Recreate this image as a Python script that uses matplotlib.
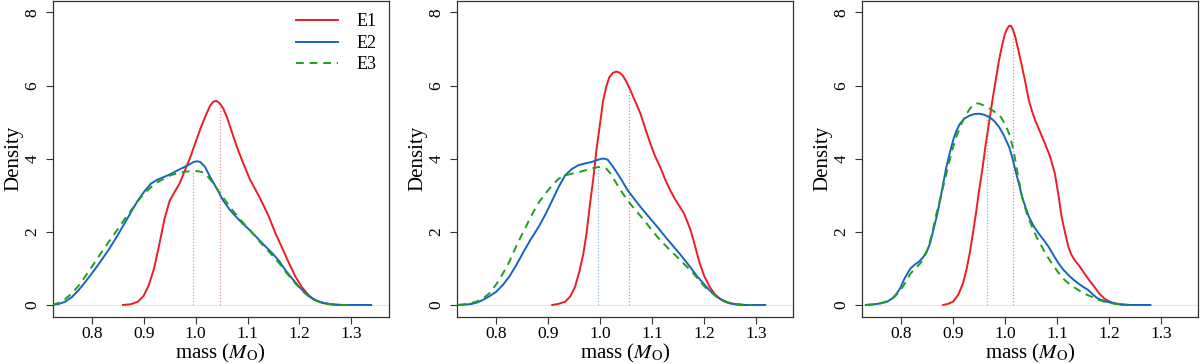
import numpy as np
import matplotlib
matplotlib.use("Agg")
import matplotlib.pyplot as plt

plt.rcParams['font.family'] = ['Liberation Serif', 'DejaVu Serif']
plt.rcParams['mathtext.fontset'] = 'stix'

# -------------------------------
# DATA
# -------------------------------

# panel 1
p1_e1_x = [0.860, 0.875, 0.889, 0.900, 0.910, 0.920, 0.930, 0.940, 0.950, 0.960, 0.970, 0.980,
           0.990, 1.000, 1.010, 1.020, 1.028, 1.034, 1.040, 1.046, 1.053, 1.060, 1.070, 1.080,
           1.091, 1.105, 1.123, 1.140, 1.154, 1.167, 1.180, 1.192, 1.205, 1.218, 1.230, 1.243,
           1.256, 1.270, 1.284]
p1_e1_y = [0.00, 0.02, 0.09, 0.25, 0.55, 1.00, 1.65, 2.35, 2.85, 3.10, 3.35, 3.70,
           4.05, 4.45, 4.85, 5.20, 5.45, 5.56, 5.58, 5.52, 5.38, 5.15, 4.72, 4.30,
           3.90, 3.42, 2.95, 2.45, 1.95, 1.55, 1.14, 0.78, 0.48, 0.26, 0.13, 0.06,
           0.025, 0.008, 0.00]
p1_e2_x = [0.724, 0.737, 0.749, 0.762, 0.775, 0.787, 0.800, 0.816, 0.832, 0.848, 0.863, 0.876,
           0.889, 0.901, 0.914, 0.927, 0.939, 0.952, 0.965, 0.978, 0.990, 0.996, 1.003, 1.009,
           1.018, 1.028, 1.040, 1.053, 1.066, 1.078, 1.091, 1.104, 1.117, 1.129, 1.148, 1.161,
           1.173, 1.186, 1.199, 1.212, 1.224, 1.237, 1.249, 1.265, 1.281, 1.338]
p1_e2_y = [0.00, 0.03, 0.09, 0.22, 0.41, 0.62, 0.86, 1.17, 1.50, 1.86, 2.23, 2.55,
           2.86, 3.10, 3.32, 3.43, 3.50, 3.58, 3.68, 3.77, 3.86, 3.91, 3.93, 3.91,
           3.78, 3.50, 3.20, 2.86, 2.60, 2.41, 2.22, 2.05, 1.86, 1.68, 1.41, 1.20,
           0.95, 0.72, 0.50, 0.32, 0.18, 0.10, 0.05, 0.015, 0.00, 0.00]
p1_e3_x = [0.724, 0.743, 0.762, 0.775, 0.787, 0.800, 0.813, 0.828, 0.844, 0.860, 0.876, 0.888,
           0.901, 0.914, 0.927, 0.940, 0.952, 0.965, 0.977, 0.990, 1.003, 1.011, 1.018, 1.026,
           1.034, 1.050, 1.066, 1.085, 1.104, 1.117, 1.129, 1.145, 1.161, 1.176, 1.192, 1.205,
           1.218, 1.230, 1.243, 1.259, 1.275, 1.300]
p1_e3_y = [0.00, 0.09, 0.32, 0.53, 0.77, 1.04, 1.32, 1.63, 1.95, 2.28, 2.59, 2.83,
           3.05, 3.22, 3.36, 3.46, 3.55, 3.60, 3.64, 3.66, 3.66, 3.64, 3.59, 3.47,
           3.32, 3.00, 2.68, 2.35, 2.05, 1.84, 1.64, 1.40, 1.14, 0.86, 0.59, 0.39,
           0.23, 0.13, 0.06, 0.02, 0.00, 0.00]

# panel 2
p2_e1_x = [0.908, 0.920, 0.933, 0.943, 0.952, 0.960, 0.968, 0.974, 0.980, 0.987, 0.993, 1.000,
           1.006, 1.012, 1.018, 1.025, 1.031, 1.037, 1.044, 1.051, 1.059, 1.068, 1.078, 1.087,
           1.097, 1.106, 1.116, 1.125, 1.135, 1.145, 1.154, 1.161, 1.167, 1.174, 1.180, 1.186,
           1.192, 1.201, 1.211, 1.220, 1.230, 1.240, 1.249, 1.265, 1.281]
p2_e1_y = [0.00, 0.03, 0.09, 0.24, 0.50, 0.90, 1.41, 1.95, 2.68, 3.45, 4.23, 4.95,
           5.59, 5.97, 6.23, 6.35, 6.38, 6.36, 6.27, 6.10, 5.86, 5.56, 5.23, 4.83,
           4.41, 4.07, 3.77, 3.45, 3.14, 2.88, 2.68, 2.52, 2.32, 2.06, 1.77, 1.45,
           1.14, 0.78, 0.50, 0.31, 0.18, 0.09, 0.05, 0.015, 0.00]
p2_e2_x = [0.727, 0.740, 0.753, 0.764, 0.775, 0.787, 0.800, 0.813, 0.825, 0.838, 0.851, 0.866,
           0.882, 0.895, 0.908, 0.920, 0.933, 0.946, 0.958, 0.971, 0.984, 0.994, 1.003, 1.009,
           1.015, 1.024, 1.034, 1.044, 1.053, 1.066, 1.078, 1.094, 1.110, 1.126, 1.142, 1.158,
           1.173, 1.186, 1.199, 1.211, 1.224, 1.237, 1.249, 1.262, 1.275, 1.318]
p2_e2_y = [0.00, 0.01, 0.03, 0.07, 0.14, 0.24, 0.36, 0.55, 0.77, 1.07, 1.41, 1.78,
           2.14, 2.48, 2.86, 3.22, 3.55, 3.72, 3.82, 3.87, 3.91, 3.96, 4.00, 4.00,
           3.97, 3.80, 3.59, 3.36, 3.14, 2.90, 2.68, 2.41, 2.14, 1.86, 1.59, 1.32,
           1.05, 0.80, 0.59, 0.40, 0.23, 0.12, 0.05, 0.015, 0.00, 0.00]
p2_e3_x = [0.727, 0.745, 0.762, 0.775, 0.787, 0.800, 0.813, 0.826, 0.838, 0.854, 0.870, 0.882,
           0.895, 0.908, 0.920, 0.933, 0.946, 0.958, 0.971, 0.984, 0.996, 1.004, 1.012, 1.020,
           1.028, 1.040, 1.053, 1.069, 1.085, 1.100, 1.116, 1.132, 1.148, 1.164, 1.180, 1.192,
           1.205, 1.218, 1.230, 1.243, 1.256, 1.275, 1.294]
p2_e3_y = [0.00, 0.03, 0.09, 0.18, 0.32, 0.56, 0.86, 1.20, 1.59, 2.05, 2.50, 2.80,
           3.05, 3.27, 3.45, 3.54, 3.59, 3.63, 3.68, 3.73, 3.77, 3.77, 3.73, 3.60,
           3.41, 3.13, 2.86, 2.58, 2.32, 2.04, 1.77, 1.54, 1.32, 1.09, 0.86, 0.65,
           0.45, 0.30, 0.18, 0.09, 0.03, 0.005, 0.00]

# panel 3
p3_e1_x = [0.881, 0.890, 0.900, 0.910, 0.919, 0.926, 0.932, 0.938, 0.944, 0.950, 0.957, 0.963,
           0.970, 0.976, 0.982, 0.988, 0.995, 1.000, 1.004, 1.008, 1.011, 1.015, 1.020, 1.026,
           1.033, 1.040, 1.046, 1.052, 1.058, 1.067, 1.077, 1.087, 1.096, 1.103, 1.109, 1.116,
           1.122, 1.128, 1.134, 1.144, 1.153, 1.162, 1.172, 1.181, 1.191, 1.200, 1.210, 1.222,
           1.235]
p3_e1_y = [0.00, 0.03, 0.09, 0.28, 0.59, 0.98, 1.41, 1.94, 2.50, 3.12, 3.77, 4.41,
           5.05, 5.62, 6.14, 6.66, 7.14, 7.42, 7.55, 7.63, 7.64, 7.54, 7.32, 6.95,
           6.50, 6.03, 5.59, 5.30, 5.05, 4.75, 4.41, 4.05, 3.59, 3.00, 2.41, 1.95,
           1.59, 1.37, 1.23, 1.05, 0.86, 0.68, 0.50, 0.32, 0.18, 0.10, 0.05, 0.015,
           0.00]
p3_e2_x = [0.732, 0.743, 0.754, 0.763, 0.773, 0.783, 0.792, 0.799, 0.805, 0.812, 0.818, 0.826,
           0.834, 0.842, 0.849, 0.856, 0.862, 0.869, 0.875, 0.881, 0.887, 0.894, 0.900, 0.906,
           0.913, 0.922, 0.932, 0.941, 0.951, 0.960, 0.970, 0.980, 0.989, 0.998, 1.008, 1.014,
           1.020, 1.027, 1.033, 1.040, 1.046, 1.055, 1.065, 1.075, 1.084, 1.093, 1.103, 1.112,
           1.122, 1.131, 1.141, 1.150, 1.160, 1.169, 1.178, 1.191, 1.204, 1.220, 1.242, 1.280]
p3_e2_y = [0.00, 0.01, 0.03, 0.05, 0.09, 0.18, 0.32, 0.48, 0.68, 0.86, 1.00, 1.10,
           1.18, 1.30, 1.45, 1.70, 2.05, 2.45, 2.86, 3.32, 3.77, 4.18, 4.50, 4.75,
           4.95, 5.10, 5.18, 5.22, 5.23, 5.20, 5.14, 5.02, 4.86, 4.63, 4.32, 4.03,
           3.68, 3.30, 2.95, 2.65, 2.41, 2.16, 1.95, 1.77, 1.59, 1.37, 1.14, 0.97,
           0.82, 0.70, 0.59, 0.50, 0.41, 0.29, 0.18, 0.11, 0.06, 0.02, 0.00, 0.00]
p3_e3_x = [0.732, 0.747, 0.761, 0.770, 0.780, 0.790, 0.799, 0.809, 0.818, 0.828, 0.837, 0.845,
           0.853, 0.860, 0.868, 0.876, 0.884, 0.892, 0.900, 0.908, 0.916, 0.924, 0.932, 0.938,
           0.944, 0.952, 0.960, 0.968, 0.976, 0.984, 0.992, 1.000, 1.008, 1.014, 1.020, 1.026,
           1.033, 1.042, 1.052, 1.061, 1.071, 1.080, 1.090, 1.102, 1.115, 1.128, 1.141, 1.153,
           1.166, 1.178, 1.191, 1.203, 1.216, 1.235]
p3_e3_y = [0.00, 0.02, 0.05, 0.09, 0.14, 0.26, 0.41, 0.63, 0.86, 1.01, 1.14, 1.33,
           1.59, 1.98, 2.50, 2.95, 3.41, 3.88, 4.32, 4.67, 4.95, 5.18, 5.36, 5.46,
           5.52, 5.50, 5.45, 5.39, 5.32, 5.24, 5.14, 4.95, 4.68, 4.37, 3.95, 3.45,
           2.95, 2.50, 2.14, 1.85, 1.59, 1.36, 1.14, 0.90, 0.68, 0.53, 0.41, 0.31,
           0.23, 0.15, 0.09, 0.05, 0.03, 0.00]

# dotted reference lines: (x, height) for E2 (blue) and E1 (red)
ref_blue = [(0.995, 3.67), (0.996, 3.75), (0.966, 5.14)]
ref_red = [(1.046, 5.50), (1.056, 5.84), (1.016, 7.50)]

labels = ["E1", "E2", "E3"]
x_ticks = [0.8, 0.9, 1.0, 1.1, 1.2, 1.3]
y_ticks = [0, 2, 4, 6, 8]

panels = [
    [(p1_e1_x, p1_e1_y), (p1_e2_x, p1_e2_y), (p1_e3_x, p1_e3_y)],
    [(p2_e1_x, p2_e1_y), (p2_e2_x, p2_e2_y), (p2_e3_x, p2_e3_y)],
    [(p3_e1_x, p3_e1_y), (p3_e2_x, p3_e2_y), (p3_e3_x, p3_e3_y)],
]

# -------------------------------
# PLOT
# -------------------------------
red = "#ee1c25"
blue = "#1565c0"
green = "#1f9e1f"
colors = [red, blue, green]
styles = ["-", "-", (0, (4, 3))]

fig = plt.figure(figsize=(12, 3.64), dpi=100)
lefts = [0.044, 0.381, 0.7185]

for i, series in enumerate(panels):
    ax = fig.add_axes([lefts[i], 0.130, 0.2800, 0.868])
    ax.axhline(0, color="#e6e6e6", lw=0.8, zorder=1)
    bx, bh = ref_blue[i]
    rx, rh = ref_red[i]
    ax.plot([bx, bx], [0, bh], color="#8fb4e3", lw=0.9, ls=(0, (1, 1.5)), zorder=2)
    ax.plot([rx, rx], [0, rh], color="#f08a8a", lw=0.9, ls=(0, (1, 1.5)), zorder=2)
    for (xs, ys), c, s, lab in zip(series, colors, styles, labels):
        ax.plot(xs, ys, color=c, ls=s, lw=1.4, label=lab, zorder=3,
                solid_joinstyle="round")

    ax.set_xlim(0.725, 1.372)
    ax.set_ylim(-0.32, 8.32)
    ax.set_xticks(x_ticks)
    ax.set_xticklabels([f"{t:.1f}" for t in x_ticks])
    ax.set_yticks(y_ticks)
    ax.set_yticklabels([str(t) for t in y_ticks], rotation=90, va="center")
    ax.tick_params(direction="out", length=5, width=0.8, color="#333333",
                   labelsize=12.5, pad=2)
    ax.tick_params(axis="y", pad=4)
    for sp in ax.spines.values():
        sp.set_color("#333333")
        sp.set_linewidth(0.9)
    ax.set_xlabel(r"mass ($M_{\mathrm{O}}$)", fontsize=15, labelpad=0)
    ax.set_ylabel("Density", fontsize=15, labelpad=1)

    if i == 0:
        ax.legend(loc="upper right", frameon=False, fontsize=13, handlelength=2.3,
                  labelspacing=0.25, borderaxespad=0.3, handletextpad=1.0)

fig.savefig("out.png", dpi=100)
